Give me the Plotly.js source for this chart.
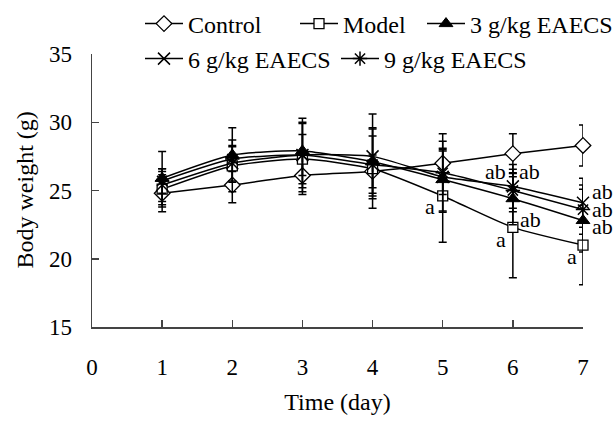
<!DOCTYPE html>
<html>
<head>
<meta charset="utf-8">
<script src="https://cdn.plot.ly/plotly-3.0.1.min.js"></script>
<style>html,body{margin:0;padding:0;background:#fff;}#chart{width:616px;height:422px;}</style>
</head>
<body>
<div id="chart"></div>
<script>
const days = [1, 2, 3, 4, 5, 6, 7];
const xTicks = [0, 1, 2, 3, 4, 5, 6, 7];
const yTicks = [15, 20, 25, 30, 35];

const seriesNames = ['Control', 'Model', '3 g/kg EAECS', '6 g/kg EAECS', '9 g/kg EAECS'];

const control   = [24.8, 25.4, 26.1, 26.4, 27.0, 27.7, 28.3];
const controlSD = [1.35, 1.3, 1.2, 1.2, 2.15, 1.45, 1.5];

const model     = [25.1, 26.8, 27.3, 26.6, 24.6, 22.3, 21.0];
const modelSD   = [1.3, 1.9, 2.6, 2.9, 3.4, 3.7, 2.9];

const dose3     = [25.9, 27.6, 27.9, 27.1, 25.8, 24.4, 22.8];
const dose3SD   = [1.95, 2.0, 2.4, 2.5, 2.3, 1.9, 2.3];

const dose6     = [25.4, 27.0, 27.6, 27.5, 26.0, 25.3, 24.1];
const dose6SD   = [1.2, 1.3, 1.5, 3.1, 2.6, 1.6, 1.8];

const dose9     = [25.7, 27.3, 27.6, 26.9, 26.3, 25.0, 23.6];
const dose9SD   = [0.9, 0.9, 2.4, 2.1, 1.6, 1.55, 1.8];

// significance letters
const sigText = ['a', 'ab', 'ab', 'ab', 'a', 'ab', 'ab', 'ab', 'a'];
const sigDay  = [5, 6, 6, 6, 6, 7, 7, 7, 7];
const sigY    = [23.8, 26.4, 26.4, 22.85, 21.4, 24.92, 23.58, 22.36, 20.16];
const sigSide = [-13, -17, 17, 18, -12, 19, 19, 19, -11];

const FONT = 'Liberation Serif, Times New Roman, serif';

const values = [control, model, dose3, dose6, dose9];
const sds = [controlSD, modelSD, dose3SD, dose6SD, dose9SD];
const markers = [
  {symbol: 'diamond', size: 12, color: '#ffffff', line: {color: '#000', width: 1.3}},
  {symbol: 'square', size: 10, color: '#ffffff', line: {color: '#000', width: 1.3}},
  {symbol: 'triangle-up', size: 12, color: '#000000', line: {color: '#000', width: 1}},
  {symbol: 'x-thin-open', size: 12, color: '#000000', line: {color: '#000', width: 1.5}},
  {symbol: 'asterisk-open', size: 12, color: '#000000', line: {color: '#000', width: 1.5}}
];
const legendIds = ['legend', 'legend2', 'legend3', 'legend4', 'legend5'];

const traces = values.map((v, i) => ({
  type: 'scatter',
  mode: 'lines+markers',
  name: seriesNames[i],
  x: days,
  y: v,
  legend: legendIds[i],
  line: {color: '#000', width: 1.5, shape: 'spline', smoothing: 0.6},
  marker: markers[i],
  error_y: {type: 'data', array: sds[i], visible: true, color: '#000', thickness: 1.5, width: 4},
  cliponaxis: false
}));

const legendPos = [
  {x: 140, y: 24}, {x: 295, y: 24}, {x: 422, y: 24},
  {x: 140, y: 59}, {x: 336, y: 59}
];
const legendBase = {
  xref: 'container', yref: 'container', xanchor: 'left', yanchor: 'middle',
  bgcolor: 'rgba(0,0,0,0)', borderwidth: 0, itemwidth: 38,
  font: {family: FONT, size: 24, color: '#000'}
};

const layout = {
  width: 616, height: 422,
  margin: {l: 92, r: 33, t: 54, b: 95, autoexpand: false},
  paper_bgcolor: '#fff', plot_bgcolor: '#fff',
  font: {family: FONT, size: 23, color: '#000'},
  showlegend: true,
  xaxis: {
    range: [0, 7], tickvals: xTicks, ticktext: xTicks.map(String), automargin: false,
    ticks: 'inside', ticklen: 7, tickwidth: 1.5, tickcolor: '#444',
    showline: true, linecolor: '#444', linewidth: 1.5, showgrid: false, zeroline: false,
    ticklabelstandoff: 19,
    tickfont: {family: FONT, size: 23, color: '#000'},
    title: {text: 'Time (day)', font: {family: FONT, size: 24, color: '#000'}, standoff: 14}
  },
  yaxis: {
    range: [15, 35], tickvals: yTicks, ticktext: yTicks.map(String), automargin: false,
    ticks: 'inside', ticklen: 7, tickwidth: 1.5, tickcolor: '#444',
    showline: true, linecolor: '#444', linewidth: 1.5, showgrid: false, zeroline: false,
    ticklabelstandoff: 14,
    tickfont: {family: FONT, size: 23, color: '#000'}
  },
  annotations: sigText.map((t, i) => ({
    x: sigDay[i], y: sigY[i], xref: 'x', yref: 'y', text: t, showarrow: false,
    xshift: sigSide[i], font: {family: FONT, size: 22, color: '#000'}
  })).concat([{
    text: 'Body weight (g)', textangle: -90, showarrow: false,
    xref: 'paper', yref: 'paper', x: (24 - 92) / 491, y: 0.5,
    xanchor: 'center', yanchor: 'middle',
    font: {family: FONT, size: 24, color: '#000'}
  }])
};
legendIds.forEach((id, i) => {
  layout[id] = Object.assign({}, legendBase, {
    x: legendPos[i].x / 616, y: 1 - legendPos[i].y / 422
  });
});

Plotly.newPlot('chart', traces, layout, {displayModeBar: false, staticPlot: true});
</script>
</body>
</html>
